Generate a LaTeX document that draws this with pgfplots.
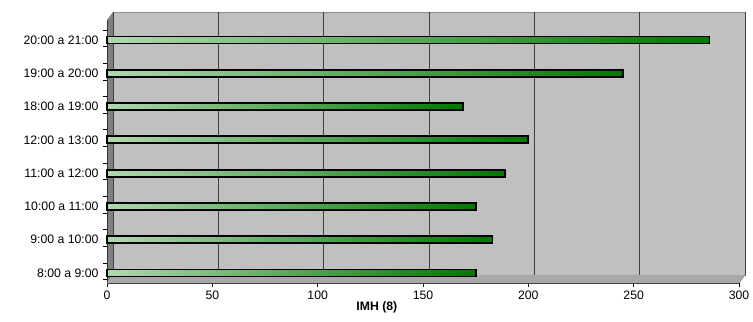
\documentclass[border=0pt]{standalone}
\usepackage{fontspec}
\setmainfont{Liberation Sans}
\usepackage{pgfplots}
\pgfplotsset{compat=1.18}
\definecolor{wallbg}{HTML}{C0C0C0}
\definecolor{sidewall}{HTML}{808080}
\definecolor{floorc}{HTML}{A8A8A8}
\definecolor{glight}{HTML}{B0D8B0}
\definecolor{gdark}{HTML}{007800}
\begin{document}
\begin{tikzpicture}
\begin{axis}[
  set layers,
  scale only axis, width=632bp, height=263bp,
  xmin=0, xmax=300, ymin=-0.3, ymax=7.6,
  xbar, bar width=7bp,
  ytick={0,...,7},
  yticklabels={8:00 a 9:00, 9:00 a 10:00, 10:00 a 11:00, 11:00 a 12:00, 12:00 a 13:00, 18:00 a 19:00, 19:00 a 20:00, 20:00 a 21:00},
  minor ytick={-0.2,0.3,0.8,1.3,1.8,2.3,2.8,3.3,3.8,4.3,4.8,5.3,5.8,6.3,6.8,7.3},
  xtick={0,50,...,300},
  axis x line*=bottom, axis y line*=left,
  axis line style={black!80, line width=0.9bp},
  x axis line style={-}, y axis line style={-},
  major tick length=4bp, minor tick length=4bp,
  major y tick style={draw=none},
  minor y tick style={black, line width=0.8bp},
  major x tick style={black, line width=0.8bp},
  tick align=outside,
  xmajorgrids, major grid style={black!75, line width=1bp, xshift=6bp, yshift=8bp},
  tick label style={font=\fontsize{12.3}{14}\selectfont},
  yticklabel style={xshift=-1bp},
  xlabel={\textbf{IMH (8)}},
  xlabel style={font=\fontsize{12.3}{14}\selectfont, at={(ticklabel cs:0.427)}, anchor=north, yshift=4bp},
  /pgf/number format/assume math mode=true,
  clip=false,
  bstyle/.style={draw=black, line width=1.8bp, left color=glight, right color=gdark, bar shift=0pt, forget plot},
]
\begin{pgfonlayer}{axis background}
% back wall
\fill[wallbg] ([xshift=6bp,yshift=8bp]rel axis cs:0,0) rectangle ([xshift=6bp,yshift=8bp]rel axis cs:1,1);
\draw[black!45, line width=0.8bp] ([xshift=6bp,yshift=8bp]rel axis cs:0,0) rectangle ([xshift=6bp,yshift=8bp]rel axis cs:1,1);
% left wall
\fill[sidewall] (rel axis cs:0,0) -- (rel axis cs:0,1) -- ([xshift=6bp,yshift=8bp]rel axis cs:0,1) -- ([xshift=6bp,yshift=8bp]rel axis cs:0,0) -- cycle;
\end{pgfonlayer}
% floor
\fill[floorc] (rel axis cs:0,0) -- (rel axis cs:1,0) -- ([xshift=6bp,yshift=8bp]rel axis cs:1,0) -- ([xshift=6bp,yshift=8bp]rel axis cs:0,0) -- cycle;
\draw[black!45, line width=0.6bp] (rel axis cs:1,0) -- ([xshift=6bp,yshift=8bp]rel axis cs:1,0);
% bounding box
\path (rel axis cs:0,0) ++(-107bp,-39bp) rectangle ++(753bp,322bp);
\addplot[bstyle] coordinates {(175,0)};
\addplot[bstyle] coordinates {(183,1)};
\addplot[bstyle] coordinates {(175,2)};
\addplot[bstyle] coordinates {(189,3)};
\addplot[bstyle] coordinates {(200,4)};
\addplot[bstyle] coordinates {(169,5)};
\addplot[bstyle] coordinates {(245,6)};
\addplot[bstyle] coordinates {(286,7)};
\end{axis}
\end{tikzpicture}
\end{document}
